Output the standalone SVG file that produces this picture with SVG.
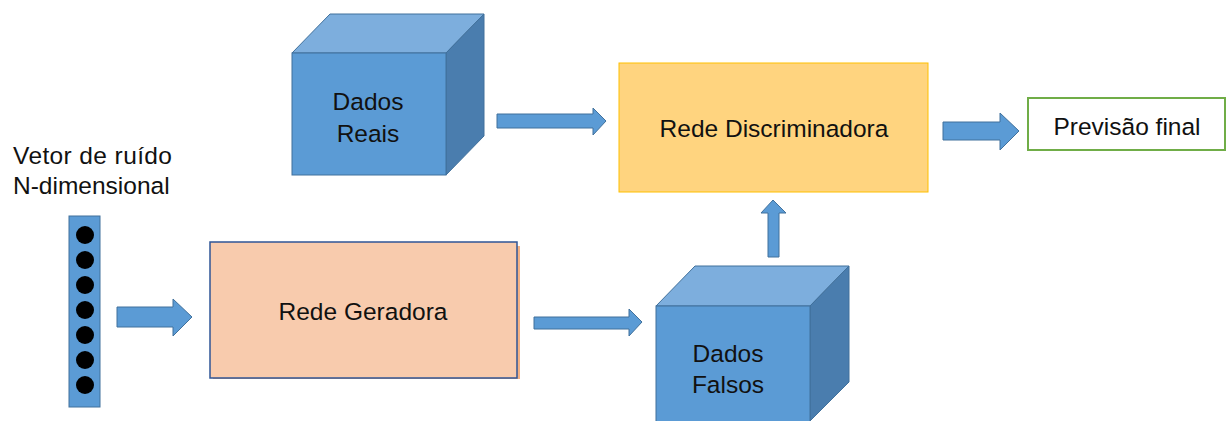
<svg xmlns="http://www.w3.org/2000/svg" width="1229" height="421" viewBox="0 0 1229 421">
<style>
text{font-family:"Liberation Sans",Arial,sans-serif;font-size:24.5px;fill:#111;}
.c{text-anchor:middle;}
.front{fill:#5B9BD5;stroke:#41719C;stroke-width:1;}
.top{fill:#7DAEDD;stroke:#41719C;stroke-width:1;}
.side{fill:#4A7DAE;stroke:#41719C;stroke-width:1;}
.arrow{fill:#5B9BD5;stroke:#41719C;stroke-width:1;}
</style>
<rect width="1229" height="421" fill="#FFFFFF"/>
<g id="noise-vector">
  <text x="13" y="164" textLength="159">Vetor de ruído</text>
  <text x="13" y="194">N-dimensional</text>
  <rect x="69" y="216" width="31" height="191" class="front"/>
  <g fill="#000">
    <circle cx="85" cy="235" r="9"/>
    <circle cx="85" cy="260" r="9"/>
    <circle cx="85" cy="285" r="9"/>
    <circle cx="85" cy="310" r="9"/>
    <circle cx="85" cy="335" r="9"/>
    <circle cx="85" cy="360" r="9"/>
    <circle cx="85" cy="385" r="9"/>
  </g>
</g>
<g id="dados-reais">
  <polygon class="top" points="292,53 330,14 484,14 446,53"/>
  <polygon class="side" points="446,53 484,14 484,136 446,175"/>
  <rect class="front" x="292" y="53" width="154" height="122"/>
  <text class="c" x="368" y="110">Dados</text>
  <text class="c" x="368" y="142">Reais</text>
</g>
<g id="rede-geradora">
  <rect x="213" y="246" width="307" height="133" fill="#F4B183"/>
  <rect x="210" y="242" width="307" height="136" fill="#F8CBAD" stroke="#2F5597" stroke-width="1.5"/>
  <text class="c" x="363" y="320">Rede Geradora</text>
</g>
<g id="dados-falsos">
  <polygon class="top" points="656,306 695,266 849,266 810,306"/>
  <polygon class="side" points="810,306 849,266 849,382 810,421"/>
  <rect class="front" x="656" y="306" width="154" height="120"/>
  <text class="c" x="728" y="362">Dados</text>
  <text class="c" x="728" y="393">Falsos</text>
</g>
<g id="rede-discriminadora">
  <rect x="619" y="63" width="309" height="129" fill="#FFD47F" stroke="#FFC000" stroke-width="1"/>
  <text class="c" x="774" y="137">Rede Discriminadora</text>
</g>
<g id="previsao-final">
  <rect x="1028" y="98" width="197" height="52" fill="#FFFFFF" stroke="#70AD47" stroke-width="2"/>
  <text class="c" x="1127" y="135">Previsão final</text>
</g>
<g id="connectors">
  <polygon class="arrow" points="117,307 173,307 173,299 192,317 173,336 173,327 117,327"/>
  <polygon class="arrow" points="497,114 593,114 593,108 606,121 593,135 593,128 497,128"/>
  <polygon class="arrow" points="534,317 629,317 629,309 642,322 629,336 629,329 534,329"/>
  <polygon class="arrow" points="768,257 768,213 761,213 773,200 786,213 779,213 779,257"/>
  <polygon class="arrow" points="943,122 1000,122 1000,113 1019,131 1000,150 1000,140 943,140"/>
</g>
</svg>
